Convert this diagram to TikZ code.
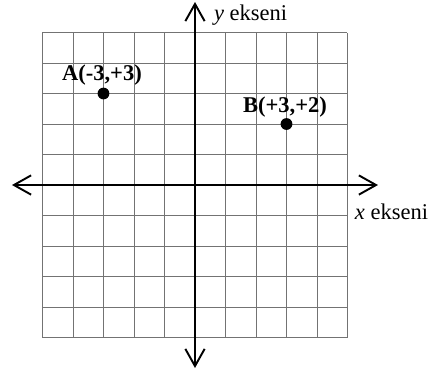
\documentclass[tikz,border=0pt]{standalone}
\usepackage{fontspec}
\setmainfont{Liberation Serif}
\usetikzlibrary{arrows.meta}
\tikzset{
	eksen/.style={line width=2.3pt, {Straight Barb[length=16pt,width=18pt,line width=1.8pt]}-{Straight Barb[length=16pt,width=18pt,line width=1.8pt]}},
	nokta/.style={circle, fill=black, inner sep=0pt, minimum size=11pt},
	etiket/.style={font=\fontsize{21}{25}\selectfont}
}
\begin{document}
\begin{tikzpicture}[x=1cm, y=1cm]
	\useasboundingbox (-6.393,-6.197) rectangle (7.869,6.066);
	% kareli zemin
	\draw[black!55, line width=0.9pt, step=1] (-5,-5) grid (5,5);
	% eksenler
	\draw[eksen] (-6,0)--(6,0);
	\draw[eksen] (0,-6)--(0,6);
	\draw (5.12,-0.88) node[etiket, anchor=west] {\textit{x} ekseni};
	\draw (0.5,5.57) node[etiket, anchor=west] {\textit{y} ekseni};
	% noktalar
	\node[nokta] (A) at (-3,3) {};
	\node[nokta] (B) at (3,2) {};
	\node[etiket, font=\fontsize{21}{25}\selectfont\bfseries] (Aet) at (-3.05,3.6) {A(-3,+3)};
	\node[etiket, font=\fontsize{21}{25}\selectfont\bfseries] (Bet) at (2.95,2.55) {B(+3,+2)};
\end{tikzpicture}
\end{document}
